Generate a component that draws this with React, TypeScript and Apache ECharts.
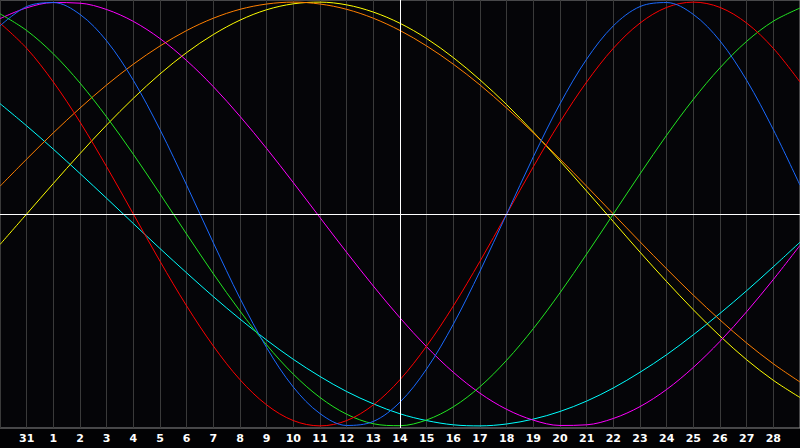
import React, { useEffect, useRef } from 'react'
import * as echarts from 'echarts'

// days shown along the bottom: Jan 30 .. Mar 1 (first and last not labelled)
const days = ['30', '31', '1', '2', '3', '4', '5', '6', '7', '8', '9', '10', '11', '12', '13', '14', '15', '16', '17', '18', '19', '20', '21', '22', '23', '24', '25', '26', '27', '28', '1']
const todayLabelIndex = 15

const physical = [0.888, 0.979, 0.998, 0.942, 0.817, 0.631, 0.398, 0.136, -0.136, -0.398, -0.631, -0.817, -0.942, -0.998, -0.979, -0.888, -0.731, -0.52, -0.27, 0, 0.27, 0.52, 0.731, 0.888, 0.979, 0.998, 0.942, 0.817, 0.631, 0.398, 0.136]
const emotional = [0.901, 0.782, 0.623, 0.434, 0.223, 0, -0.223, -0.434, -0.623, -0.782, -0.901, -0.975, -1.0, -0.975, -0.901, -0.782, -0.623, -0.434, -0.223, 0, 0.223, 0.434, 0.623, 0.782, 0.901, 0.975, 1.0, 0.975, 0.901, 0.782, 0.623]
const intellectual = [0.945, 0.866, 0.756, 0.618, 0.458, 0.282, 0.095, -0.095, -0.282, -0.458, -0.618, -0.756, -0.866, -0.945, -0.99, -0.999, -0.972, -0.91, -0.815, -0.69, -0.541, -0.372, -0.189, 0, 0.189, 0.372, 0.541, 0.69, 0.815, 0.91, 0.972]
const spiritual = [0.521, 0.416, 0.306, 0.191, 0.074, -0.045, -0.163, -0.278, -0.39, -0.496, -0.595, -0.686, -0.767, -0.838, -0.896, -0.943, -0.975, -0.995, -1.0, -0.991, -0.968, -0.932, -0.883, -0.821, -0.747, -0.664, -0.57, -0.469, -0.362, -0.249, -0.133]
const intuitive = [0.922, 0.973, 0.998, 0.995, 0.965, 0.909, 0.828, 0.724, 0.601, 0.461, 0.309, 0.148, -0.017, -0.181, -0.34, -0.49, -0.627, -0.747, -0.846, -0.922, -0.973, -0.998, -0.995, -0.965, -0.909, -0.828, -0.724, -0.601, -0.461, -0.309, -0.148]
const awareness = [0.131, 0.259, 0.383, 0.5, 0.609, 0.707, 0.793, 0.866, 0.924, 0.966, 0.991, 1.0, 0.991, 0.966, 0.924, 0.866, 0.793, 0.707, 0.609, 0.5, 0.383, 0.259, 0.131, 0, -0.131, -0.259, -0.383, -0.5, -0.609, -0.707, -0.793]
const aesthetic = [-0.144, 0, 0.144, 0.285, 0.42, 0.546, 0.661, 0.762, 0.847, 0.915, 0.964, 0.992, 1.0, 0.987, 0.953, 0.9, 0.828, 0.738, 0.633, 0.516, 0.387, 0.25, 0.108, -0.036, -0.18, -0.319, -0.452, -0.576, -0.688, -0.785, -0.866]

const App: React.FC = () => {
  const chartRef = useRef<HTMLDivElement>(null)

  useEffect(() => {
    if (!chartRef.current) return
    const chart = echarts.init(chartRef.current, undefined, { renderer: 'svg' })

    const line = (name: string, data: number[], color: string, extra: any = {}) => ({
      name,
      type: 'line',
      data,
      smooth: 0.34,
      symbol: 'none',
      lineStyle: { color, width: 1 },
      silent: true,
      ...extra
    })

    const option: echarts.EChartsOption = {
      animation: false,
      backgroundColor: '#020204',
      grid: {
        left: 0,
        right: 0,
        top: 0,
        bottom: 20,
        show: true,
        borderColor: '#8c8c8c',
        borderWidth: 1,
        backgroundColor: '#050508'
      },
      xAxis: {
        type: 'category',
        data: days,
        boundaryGap: false,
        axisLine: { show: false },
        axisTick: { show: false },
        axisLabel: {
          interval: (i: number) => i > 0 && i < days.length - 1,
          color: '#ffffff',
          fontWeight: 'bold',
          fontSize: 11,
          fontFamily: 'DejaVu Sans',
          margin: 5
        },
        splitLine: { show: true, interval: 0, lineStyle: { color: '#3a3a3a', width: 1 } }
      },
      yAxis: {
        type: 'value',
        min: -1.01,
        max: 1.01,
        show: false,
        splitLine: { show: false }
      },
      series: [
        line('spiritual', spiritual, '#00ffff'),
        line('aesthetic', aesthetic, '#ffff00'),
        line('awareness', awareness, '#ff7f00'),
        line('intuitive', intuitive, '#ff00ff'),
        line('intellectual', intellectual, '#22e622'),
        line('emotional', emotional, '#ff0000'),
        line('physical', physical, '#1a6aff', {
          markLine: {
            silent: true,
            symbol: 'none',
            label: { show: false },
            lineStyle: { color: '#ffffff', width: 1, type: 'solid' },
            data: [{ xAxis: todayLabelIndex }, { yAxis: 0 }]
          }
        })
      ] as any
    }

    chart.setOption(option)
    return () => chart.dispose()
  }, [])

  return (
    <div
      ref={chartRef}
      style={{ position: 'fixed', left: 0, top: 0, width: 800, height: 448 }}
    />
  )
}

export default App
